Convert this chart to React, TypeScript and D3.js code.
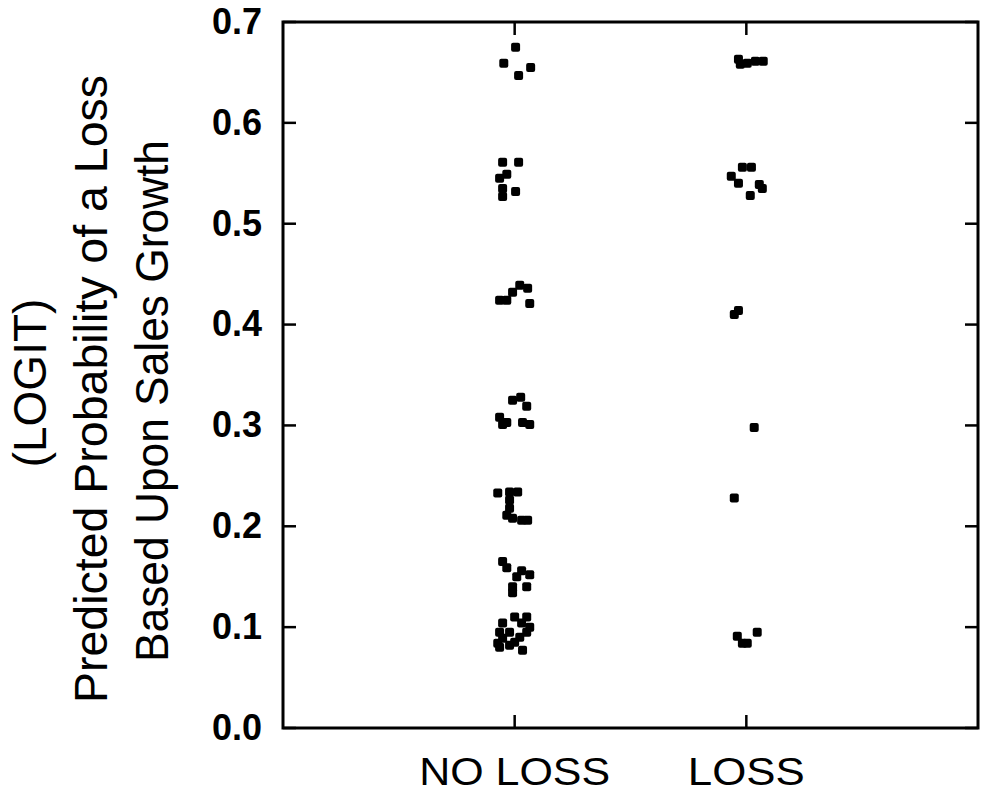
import React from 'react';
import * as d3 from 'd3';

// categories on the x axis (placed at x = 1 and x = 2)
const categories = ['NO LOSS', 'LOSS'];
const yTicks = [0, 0.1, 0.2, 0.3, 0.4, 0.5, 0.6, 0.7];

// jittered x positions and predicted probabilities, NO LOSS group
const noLossX = [
  1.004, 0.953, 1.069, 1.017,
  0.948, 1.017, 0.966, 0.935, 0.948, 0.948, 1.004,
  1.022, 1.056, 0.991, 0.935, 0.966, 1.065,
  0.991, 1.026, 1.052, 0.935, 0.966, 0.948, 1.034, 1.065,
  0.927, 0.978, 1.013, 0.978, 0.978, 0.966, 0.991, 1.030, 1.056,
  0.948, 0.966, 1.030, 1.065, 1.009, 0.991, 1.052, 0.991,
  1.0, 1.052, 0.948, 1.030, 1.065, 0.935, 0.978, 1.052, 0.948, 1.022, 0.927, 0.978, 1.034, 0.935, 1.0,
];
const noLossY = [
  0.675, 0.659, 0.655, 0.647,
  0.561, 0.561, 0.549, 0.545, 0.535, 0.527, 0.532,
  0.439, 0.436, 0.432, 0.424, 0.424, 0.421,
  0.325, 0.328, 0.319, 0.308, 0.303, 0.301, 0.303, 0.301,
  0.233, 0.234, 0.234, 0.226, 0.218, 0.211, 0.208, 0.206, 0.206,
  0.165, 0.159, 0.156, 0.152, 0.150, 0.140, 0.140, 0.134,
  0.110, 0.110, 0.104, 0.104, 0.100, 0.095, 0.095, 0.095, 0.089, 0.090, 0.084, 0.082, 0.077, 0.080, 0.085,
];

// LOSS group
const lossX = [
  1.966, 1.974, 2.004, 2.039, 2.073,
  1.983, 2.022, 1.935, 1.966, 2.056, 2.069, 2.017,
  1.948, 1.966,
  2.034,
  1.948,
  1.961, 2.004, 2.047, 1.983,
];
const lossY = [
  0.663, 0.658, 0.659, 0.661, 0.661,
  0.556, 0.556, 0.547, 0.540, 0.539, 0.535, 0.528,
  0.410, 0.414,
  0.298,
  0.228,
  0.091, 0.084, 0.095, 0.084,
];

const W = 982;
const H = 804;
const left = 283, right = 978, top = 22, bottom = 728;
const tickLen = 13;
const font = '"Liberation Sans", Arial, Helvetica, sans-serif';

export default function App() {
  const x = d3.scaleLinear().domain([0, 3]).range([left, right]);
  const y = d3.scaleLinear().domain([0, 0.7]).range([bottom, top]);
  const fmt = d3.format('.1f');

  const points = [
    ...noLossX.map((v, i) => [v, noLossY[i]]),
    ...lossX.map((v, i) => [v, lossY[i]]),
  ];
  const size = 9;

  const yLabelLines = [
    { text: '(LOGIT)', base: 46, center: 383, len: null },
    { text: 'Predicted Probability of a Loss', base: 107, center: 389, len: 628 },
    { text: 'Based Upon Sales Growth', base: 168, center: 401, len: 522 },
  ];

  return (
    <svg width={W} height={H} style={{ position: 'absolute', left: 0, top: 0, background: '#fff' }}>
      {/* frame */}
      <rect x={left} y={top} width={right - left} height={bottom - top}
        fill="none" stroke="#000" strokeWidth={3} />

      {/* y ticks, left and right, pointing inward */}
      {yTicks.map(t => (
        <g key={'y' + t}>
          <line x1={left} x2={left + tickLen} y1={y(t)} y2={y(t)} stroke="#000" strokeWidth={2.5} />
          <line x1={right} x2={right - tickLen} y1={y(t)} y2={y(t)} stroke="#000" strokeWidth={2.5} />
          <text x={262} y={y(t)} dy="0.33em" textAnchor="end"
            fontFamily={font} fontWeight="bold" fontSize={36}>{fmt(t)}</text>
        </g>
      ))}

      {/* x ticks, bottom and top */}
      {categories.map((c, i) => (
        <g key={c}>
          <line x1={x(i + 1)} x2={x(i + 1)} y1={bottom} y2={bottom - tickLen} stroke="#000" strokeWidth={2.5} />
          <line x1={x(i + 1)} x2={x(i + 1)} y1={top} y2={top + tickLen} stroke="#000" strokeWidth={2.5} />
          <text x={x(i + 1)} y={785} textAnchor="middle" fontFamily={font} fontSize={39}
            textLength={i === 0 ? 191 : 117} lengthAdjust="spacingAndGlyphs">{c}</text>
        </g>
      ))}

      {/* y axis title */}
      {yLabelLines.map(l => (
        <text key={l.text} transform={`translate(${l.base},${l.center}) rotate(-90)`}
          textAnchor="middle" fontFamily={font} fontSize={46}
          textLength={l.len ?? undefined} lengthAdjust="spacingAndGlyphs">{l.text}</text>
      ))}

      {/* points */}
      {points.map(([px, py], i) => (
        <rect key={i} x={x(px) - size / 2} y={y(py) - size / 2} width={size} height={size}
          rx={2} fill="#000" />
      ))}
    </svg>
  );
}
